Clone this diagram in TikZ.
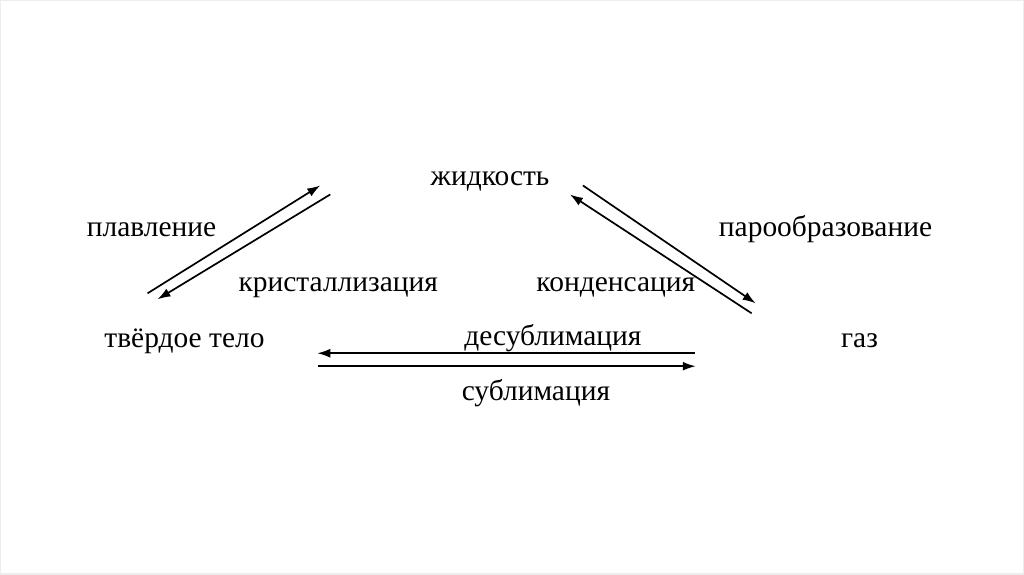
\documentclass[tikz,border=0pt]{standalone}
\usepackage{fontspec}
\setmainfont{Liberation Serif}
\usetikzlibrary{arrows.meta}
\begin{document}
\begin{tikzpicture}[x=1pt,y=-1pt,
  lbl/.style={font=\fontsize{29.5}{32}\selectfont, inner sep=0pt, anchor=base},
  arr/.style={line width=1.7pt, -{Latex[length=13pt,width=9pt]}}]
\path[fill=white, draw=black!7, line width=1.5pt] (0,0) rectangle (1024,574);
\useasboundingbox (0,0) rectangle (1024,574);
% labels (base positions)
\node[lbl] (liq) at (490,185) {жидкость};
\node[lbl] (melt) at (151,236) {плавление};
\node[lbl] (evap) at (826,236) {парообразование};
\node[lbl] (cryst) at (338,291) {кристаллизация};
\node[lbl] (cond) at (616,291) {конденсация};
\node[lbl] (solid) at (184,347) {твёрдое тело};
\node[lbl] (desub) at (553,345) {десублимация};
\node[lbl] (gas) at (860,347) {газ};
\node[lbl] (subl) at (536,400) {сублимация};
% arrow end points
\coordinate (m1) at (147,293); \coordinate (m2) at (320,185);
\coordinate (c1) at (330,194); \coordinate (c2) at (157,299);
\coordinate (e1) at (583,185); \coordinate (e2) at (756,303);
\coordinate (k1) at (752,313); \coordinate (k2) at (570,194);
\coordinate (d1) at (695,353); \coordinate (d2) at (317,353);
\coordinate (s1) at (318,366); \coordinate (s2) at (696,366);
\draw[arr] (m1) -- (m2);
\draw[arr] (c1) -- (c2);
\draw[arr] (e1) -- (e2);
\draw[arr] (k1) -- (k2);
\draw[arr] (d1) -- (d2);
\draw[arr] (s1) -- (s2);
\end{tikzpicture}
\end{document}
